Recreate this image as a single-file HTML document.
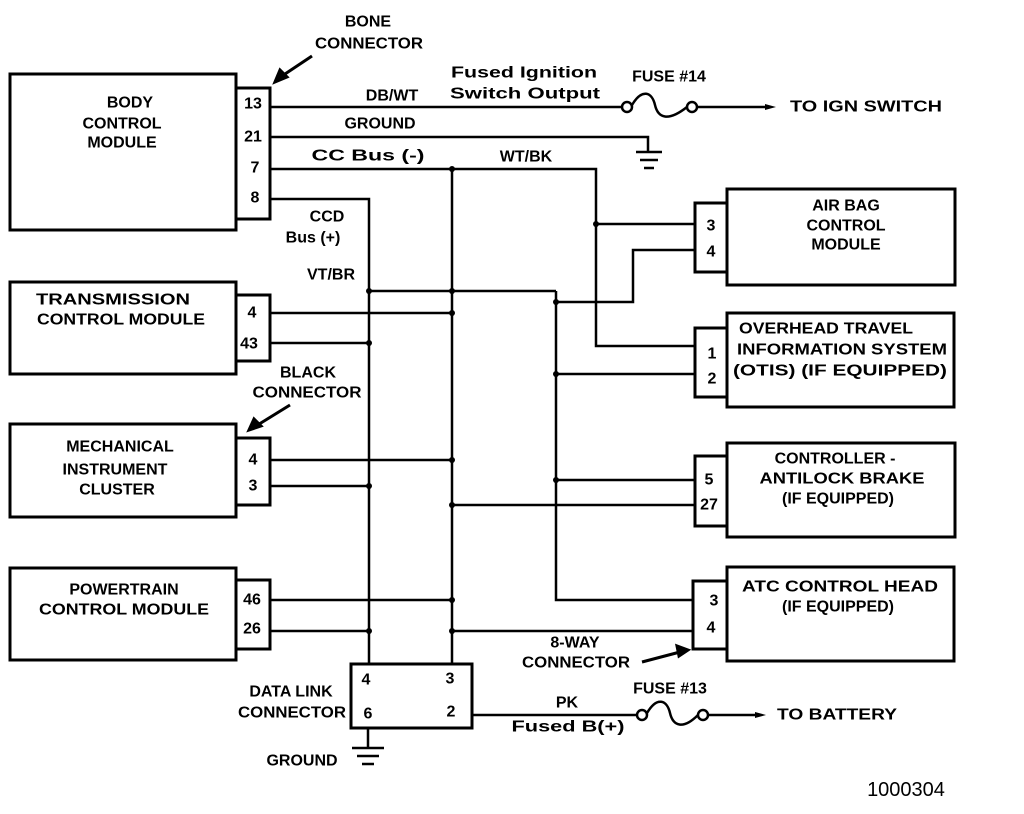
<!DOCTYPE html>
<html><head><meta charset="utf-8"><style>html,body{margin:0;padding:0;background:#fff}svg{display:block}</style></head><body>
<svg width="1024" height="814" viewBox="0 0 1024 814" xmlns="http://www.w3.org/2000/svg">
<g fill="none" stroke="#000" stroke-width="3">
<rect x="10" y="74" width="226" height="156"/>
<rect x="236" y="88" width="34" height="131"/>
<rect x="10" y="282" width="226" height="92"/>
<rect x="236" y="295" width="34" height="66"/>
<rect x="10" y="424" width="226" height="93"/>
<rect x="236" y="438" width="34" height="67"/>
<rect x="10" y="568" width="226" height="92"/>
<rect x="236" y="580" width="34" height="69"/>
<rect x="351" y="664" width="121" height="64"/>
<rect x="727" y="189" width="228" height="96"/>
<rect x="695" y="203" width="32" height="69"/>
<rect x="727" y="313" width="227" height="94"/>
<rect x="695" y="328" width="32" height="69"/>
<rect x="727" y="443" width="228" height="94"/>
<rect x="695" y="456" width="32" height="70"/>
<rect x="727" y="567" width="227" height="94"/>
<rect x="693" y="581" width="34" height="68"/>
</g>
<g fill="none" stroke="#000" stroke-width="2.5">
<path d="M270 107 H622 M697 107 H765"/>
<circle cx="627" cy="107" r="5"/><circle cx="692" cy="107" r="5"/>
<path d="M632 105 C642 88 652 92 655 105 C658 118 668 122 687 107"/>
<path d="M270 137 H648 V152 M636 152 H662 M640 160 H658 M644 168 H654"/>
<path d="M270 169 H596 V346 H695 M596 224 H695"/>
<path d="M452 169 V664"/>
<path d="M270 199 H369 V664"/>
<path d="M369 291 H556 M556 302 H633 V250 H695"/>
<path d="M556 291 V600 H693 M556 374 H695 M556 480 H695"/>
<path d="M270 313 H452 M270 343 H369 M270 460 H452 M270 486 H369 M270 600 H452 M270 631 H369"/>
<path d="M452 505 H695 M452 631 H693"/>
<path d="M368 728 V748 M352 748 H384 M357 756 H379 M362 764 H374"/>
<path d="M472 715 H637 M708 715 H755"/>
<circle cx="642" cy="715" r="5"/><circle cx="703" cy="715" r="5"/>
<path d="M647 713 C657 696 667 700 670 713 C673 726 683 730 698 715"/>
</g>
<g fill="#000">
<path d="M765 104 L776 107 L765 110Z"/><path d="M755 712 L766 715 L755 718Z"/>
<circle cx="369" cy="291" r="3"/><circle cx="452" cy="169" r="3"/><circle cx="596" cy="224" r="3"/>
<circle cx="556" cy="302" r="3"/><circle cx="452" cy="291" r="3"/><circle cx="452" cy="313" r="3"/><circle cx="369" cy="343" r="3"/>
<circle cx="556" cy="374" r="3"/><circle cx="452" cy="460" r="3"/><circle cx="369" cy="486" r="3"/><circle cx="556" cy="480" r="3"/>
<circle cx="452" cy="505" r="3"/><circle cx="452" cy="600" r="3"/><circle cx="369" cy="631" r="3"/><circle cx="452" cy="631" r="3"/>
</g>
<g stroke="#000" stroke-width="3" fill="#000">
<path d="M312 56 L282 76" /><path d="M275 82 L280 70 L287 77Z"/>
<path d="M290 405 L256 426"/><path d="M249 430 L254 419 L261 426Z"/>
<path d="M642 662 L680 652"/><path d="M688 650 L677 646 L679 656Z"/>
</g>
<g font-family="Liberation Sans, sans-serif" font-weight="bold" font-size="16" fill="#000" text-anchor="middle" dominant-baseline="central">
<text x="368" y="22">BONE</text><text x="369" y="44" textLength="108" lengthAdjust="spacingAndGlyphs">CONNECTOR</text>
<text x="130" y="103">BODY</text><text x="122" y="124">CONTROL</text><text x="122" y="143">MODULE</text>
<text x="253" y="104">13</text><text x="253" y="137">21</text><text x="255" y="168">7</text><text x="255" y="198">8</text>
<text x="392" y="96">DB/WT</text><text x="524" y="73" textLength="146" lengthAdjust="spacingAndGlyphs">Fused Ignition</text>
<text x="525" y="94" textLength="150" lengthAdjust="spacingAndGlyphs">Switch Output</text>
<text x="669" y="77">FUSE #14</text><text x="866" y="107" textLength="152" lengthAdjust="spacingAndGlyphs">TO IGN SWITCH</text>
<text x="380" y="124">GROUND</text><text x="368" y="156" textLength="113" lengthAdjust="spacingAndGlyphs">CC Bus (-)</text>
<text x="526" y="157">WT/BK</text><text x="327" y="217">CCD</text><text x="313" y="238">Bus (+)</text><text x="331" y="275">VT/BR</text>
<text x="113" y="300" textLength="154" lengthAdjust="spacingAndGlyphs">TRANSMISSION</text><text x="121" y="320" textLength="168" lengthAdjust="spacingAndGlyphs">CONTROL MODULE</text>
<text x="252" y="313">4</text><text x="249" y="344">43</text>
<text x="308" y="373">BLACK</text><text x="307" y="393" textLength="109" lengthAdjust="spacingAndGlyphs">CONNECTOR</text>
<text x="120" y="447">MECHANICAL</text><text x="115" y="470">INSTRUMENT</text><text x="117" y="490">CLUSTER</text>
<text x="253" y="460">4</text><text x="253" y="486">3</text>
<text x="124" y="590">POWERTRAIN</text><text x="124" y="610" textLength="170" lengthAdjust="spacingAndGlyphs">CONTROL MODULE</text>
<text x="252" y="600">46</text><text x="252" y="629">26</text>
<text x="291" y="692">DATA LINK</text><text x="292" y="713" textLength="108" lengthAdjust="spacingAndGlyphs">CONNECTOR</text>
<text x="366" y="680">4</text><text x="450" y="679">3</text><text x="368" y="714">6</text><text x="451" y="712">2</text>
<text x="302" y="761">GROUND</text>
<text x="846" y="206">AIR BAG</text><text x="846" y="226">CONTROL</text><text x="846" y="245">MODULE</text>
<text x="711" y="226">3</text><text x="711" y="252">4</text>
<text x="826" y="329" textLength="174" lengthAdjust="spacingAndGlyphs">OVERHEAD TRAVEL</text>
<text x="842" y="350" textLength="210" lengthAdjust="spacingAndGlyphs">INFORMATION SYSTEM</text>
<text x="840" y="371" textLength="214" lengthAdjust="spacingAndGlyphs">(OTIS) (IF EQUIPPED)</text>
<text x="712" y="354">1</text><text x="712" y="379">2</text>
<text x="835" y="459">CONTROLLER -</text><text x="842" y="479" textLength="165" lengthAdjust="spacingAndGlyphs">ANTILOCK BRAKE</text><text x="838" y="499">(IF EQUIPPED)</text>
<text x="709" y="480">5</text><text x="709" y="505">27</text>
<text x="840" y="587" textLength="196" lengthAdjust="spacingAndGlyphs">ATC CONTROL HEAD</text><text x="838" y="607">(IF EQUIPPED)</text>
<text x="714" y="601">3</text><text x="711" y="628">4</text>
<text x="575" y="643">8-WAY</text><text x="576" y="663" textLength="108" lengthAdjust="spacingAndGlyphs">CONNECTOR</text>
<text x="670" y="689">FUSE #13</text><text x="567" y="703">PK</text><text x="568" y="727" textLength="113" lengthAdjust="spacingAndGlyphs">Fused B(+)</text>
<text x="837" y="715" textLength="120" lengthAdjust="spacingAndGlyphs">TO BATTERY</text>
<text x="906" y="790" font-weight="normal" font-size="20">1000304</text>
</g>
</svg>
</body></html>
